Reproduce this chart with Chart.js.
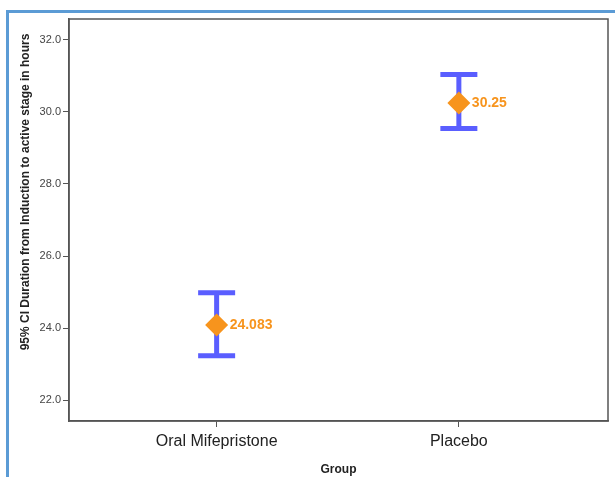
<!DOCTYPE html>
<html>
<head>
<meta charset="utf-8">
<script src="https://cdn.jsdelivr.net/npm/chart.js@4"></script>
<style>
  html, body { margin: 0; padding: 0; background: #fff; }
  #wrap { position: relative; width: 615px; height: 477px; }
  #frame { position: absolute; left: 6px; top: 10px; width: 620px; height: 480px;
           border-top: 3px solid #5b9bd5; border-left: 3px solid #5b9bd5; box-sizing: border-box; }
  canvas { position: absolute; left: 0; top: 0; }
</style>
</head>
<body>
<div id="wrap">
  <div id="frame"></div>
  <canvas id="myChart" width="615" height="477"></canvas>
</div>
<script>
const groups = ['Oral Mifepristone', 'Placebo'];
const means = [24.083, 30.25];
const ciLower = [23.23, 29.54];
const ciUpper = [24.98, 31.04];
const yTicks = [22, 24, 26, 28, 30, 32];

const blue = '#5a5eff';
const orange = '#f7941d';

const ctx = document.getElementById('myChart');

const errorBars = {
  id: 'errorBars',
  beforeDatasetsDraw(chart) {
    const c = chart.ctx, xs = chart.scales.x, ys = chart.scales.y;
    c.save();
    c.strokeStyle = blue;
    c.lineWidth = 5;
    groups.forEach((g, i) => {
      const px = xs.getPixelForValue(i);
      const top = ys.getPixelForValue(ciUpper[i]);
      const bot = ys.getPixelForValue(ciLower[i]);
      c.beginPath();
      c.moveTo(px, top); c.lineTo(px, bot);
      c.moveTo(px - 18.5, top); c.lineTo(px + 18.5, top);
      c.moveTo(px - 18.5, bot); c.lineTo(px + 18.5, bot);
      c.stroke();
    });
    c.restore();
  },
  afterDraw(chart) {
    const c = chart.ctx, xs = chart.scales.x, ys = chart.scales.y, a = chart.chartArea;
    c.save();
    // box
    c.strokeStyle = '#555';
    c.lineWidth = 1.5;
    c.strokeRect(a.left, a.top, a.right - a.left, a.bottom - a.top);
    // value labels
    c.fillStyle = orange;
    c.font = 'bold 14px "Liberation Sans", Arial, sans-serif';
    c.textBaseline = 'middle';
    groups.forEach((g, i) => {
      c.fillText(String(means[i]), xs.getPixelForValue(i) + 13, ys.getPixelForValue(means[i]));
    });
    // y title
    c.fillStyle = '#222';
    c.font = 'bold 12px "Liberation Sans", Arial, sans-serif';
    c.textAlign = 'center';
    c.translate(26, 192);
    c.rotate(-Math.PI / 2);
    c.fillText('95% CI Duration from Induction to active stage in hours', 0, 0);
    c.restore();
  }
};

new Chart(ctx, {
  type: 'scatter',
  data: {
    datasets: [{
      data: means.map((m, i) => ({ x: i, y: m })),
      pointStyle: 'rectRot',
      pointRadius: 11.5,
      pointHoverRadius: 11.5,
      backgroundColor: orange,
      borderColor: orange,
      borderWidth: 0
    }]
  },
  options: {
    responsive: false,
    animation: false,
    layout: { autoPadding: false, padding: { left: 0, top: 19, right: 7, bottom: 0 } },
    plugins: { legend: { display: false }, tooltip: { enabled: false } },
    scales: {
      x: {
        type: 'linear',
        min: -0.6095,
        max: 1.6157,
        afterBuildTicks: s => { s.ticks = groups.map((g, i) => ({ value: i })); },
        afterFit: s => { s.height = 56; s.paddingLeft = 0; s.paddingRight = 0; },
        grid: { drawOnChartArea: false, drawTicks: true, tickLength: 6, color: '#555' },
        border: { display: true, color: '#555', width: 1.5 },
        ticks: {
          callback: v => groups[v],
          color: '#222',
          padding: 5,
          font: { family: '"Liberation Sans", Arial', size: 16 }
        },
        title: {
          display: true,
          text: 'Group',
          color: '#222',
          padding: { top: 3, bottom: 0 },
          font: { family: '"Liberation Sans", Arial', size: 12, weight: 'bold' }
        }
      },
      y: {
        min: 21.42,
        max: 32.58,
        afterBuildTicks: s => { s.ticks = yTicks.map(v => ({ value: v })); },
        afterFit: s => { s.width = 69; s.paddingTop = 0; s.paddingBottom = 0; },
        grid: { drawOnChartArea: false, drawTicks: true, tickLength: 6, color: '#555' },
        border: { display: true, color: '#555', width: 1.5 },
        ticks: {
          callback: v => v.toFixed(1),
          color: '#444',
          padding: 2,
          font: { family: '"Liberation Sans", Arial', size: 11 }
        }
      }
    }
  },
  plugins: [errorBars]
});
</script>
</body>
</html>
